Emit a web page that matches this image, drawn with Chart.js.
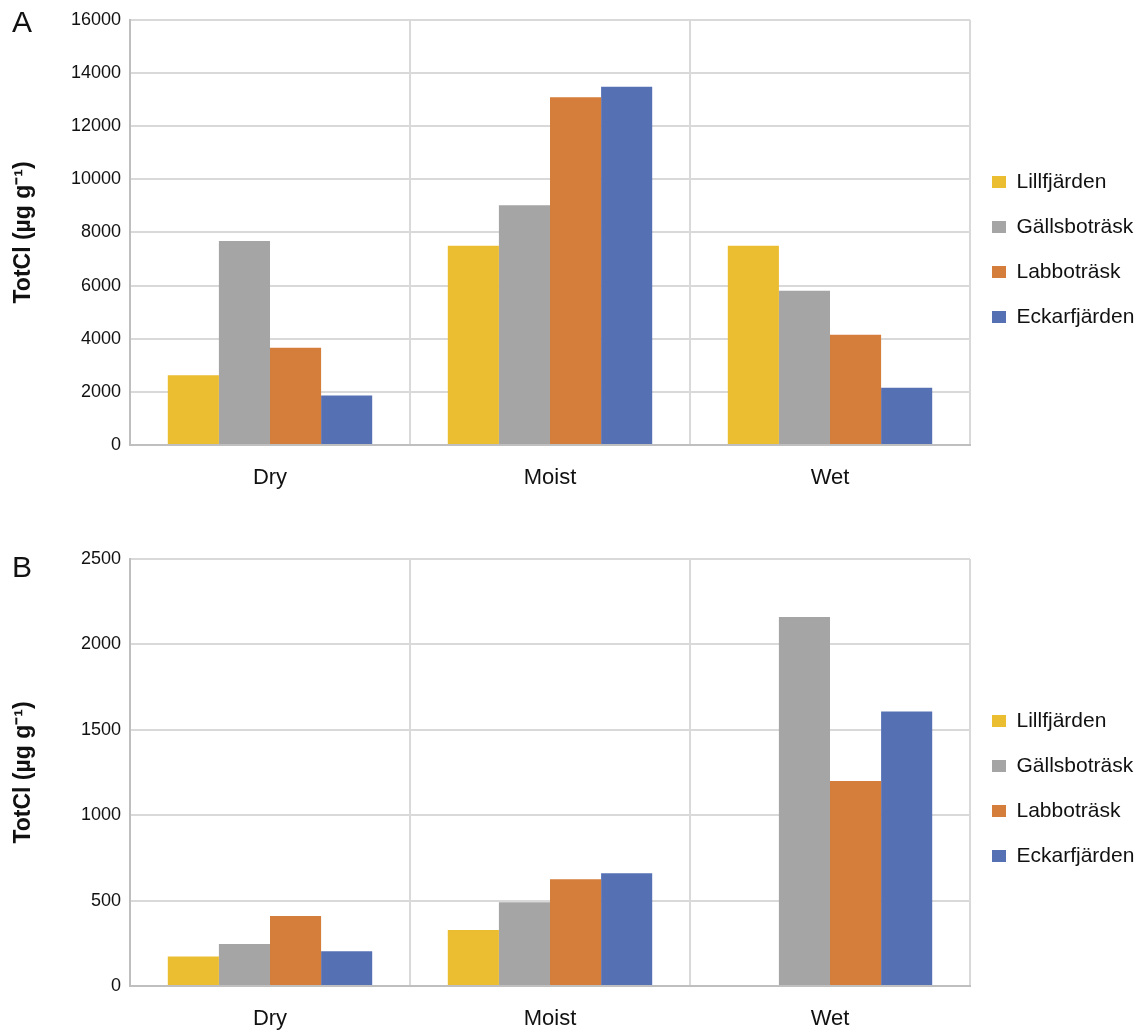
<!DOCTYPE html>
<html>
<head>
<meta charset="utf-8">
<title>TotCl by moisture class</title>
<script src="https://cdn.jsdelivr.net/npm/chart.js@4.4.1/dist/chart.umd.min.js"></script>
<style>
  html, body { margin: 0; padding: 0; background: #fff; }
  #wrap { position: relative; width: 1144px; height: 1030px; overflow: hidden; }
  .panel { position: absolute; left: 0; width: 1144px; height: 515px; }
  .tag { position: absolute; left: 12px; font: 30px 'Liberation Sans', Arial, sans-serif; line-height: 30px; color: #111; }
</style>
</head>
<body>
<div id="wrap">
  <div class="panel" style="top:0"><canvas id="chartA" width="1144" height="515"></canvas></div>
  <div class="panel" style="top:515px"><canvas id="chartB" width="1144" height="515"></canvas></div>
  <div class="tag" style="top:7px">A</div>
  <div class="tag" style="top:552px">B</div>
</div>
<script>
// Moisture classes on the x axis
const categories = ['Dry', 'Moist', 'Wet'];

// Lakes (one series each)
const lakes = ['Lillfjärden', 'Gällsboträsk', 'Labboträsk', 'Eckarfjärden'];
const lakeColors = ['#EBBD30', '#A5A5A5', '#D57D3A', '#5670B4'];

// Panel A: TotCl (µg g⁻¹)
const lillfjardenA  = [2620, 7500, 7500];
const gallsbotraskA = [7680, 9020, 5800];
const labbotraskA   = [3660, 13090, 4150];
const eckarfjardenA = [1860, 13480, 2150];
const yTicksA = [0, 2000, 4000, 6000, 8000, 10000, 12000, 14000, 16000];

// Panel B: TotCl (µg g⁻¹)
const lillfjardenB  = [172, 328, 0];
const gallsbotraskB = [246, 490, 2160];
const labbotraskB   = [410, 625, 1200];
const eckarfjardenB = [203, 660, 1607];
const yTicksB = [0, 500, 1000, 1500, 2000, 2500];

const yTitle = 'TotCl (µg g⁻¹)';
const FONT = "'Liberation Sans', Arial, sans-serif";
const LEGEND_W = 174;

// fixed-width legend column on the right, vertically centred on its own band
function legendBox(legendBottom) {
  return {
    id: 'legendBox',
    beforeLayout(chart) {
      const lg = chart.legend;
      if (lg && !lg.__fixedWidth) {
        const fit = lg.fit;
        lg.fit = function () { fit.call(this); this.width = LEGEND_W; };
        lg.__fixedWidth = true;
      }
    },
    afterLayout(chart) {
      const lg = chart.legend;
      if (lg) {
        lg.left -= 2;
        lg.bottom = legendBottom;
        lg.height = lg.bottom - lg.top;
      }
    }
  };
}

function makeChart(id, series, ticks, layout) {
  const yMax = ticks[ticks.length - 1];
  const yStep = ticks[1] - ticks[0];
  return new Chart(document.getElementById(id), {
    type: 'bar',
    data: {
      labels: categories,
      datasets: series.map((values, i) => ({
        label: lakes[i],
        data: values,
        backgroundColor: lakeColors[i],
        borderWidth: 0,
        categoryPercentage: 0.73,
        barPercentage: 1.0
      }))
    },
    plugins: [legendBox(layout.legendBottom)],
    options: {
      responsive: false,
      animation: false,
      layout: { padding: { top: layout.top, bottom: 0, left: 0, right: 0 } },
      plugins: {
        tooltip: { enabled: false },
        legend: {
          position: 'right',
          align: 'center',
          labels: {
            font: { family: FONT, size: 21 },
            color: '#111',
            boxWidth: 14,
            boxHeight: 12,
            padding: 24
          }
        }
      },
      scales: {
        x: {
          grid: { color: '#d9d9d9', lineWidth: 2, offset: true, drawTicks: false },
          border: { color: '#bfbfbf', width: 2 },
          ticks: { font: { family: FONT, size: 22 }, color: '#111', padding: 20 },
          afterFit(scale) { scale.height = layout.xAxisH; }
        },
        y: {
          min: 0,
          max: yMax,
          grid: { color: '#d9d9d9', lineWidth: 2, drawTicks: false },
          border: { color: '#bfbfbf', width: 2 },
          ticks: {
            stepSize: yStep,
            font: { family: FONT, size: 18 },
            color: '#111',
            padding: 9,
            callback: (v) => String(v)
          },
          title: {
            display: true,
            text: yTitle,
            font: { family: FONT, size: 23, weight: 'bold' },
            color: '#111',
            padding: { top: 10, bottom: 0 }
          },
          afterFit(scale) { scale.width = 130; }
        }
      }
    }
  });
}

makeChart('chartA',
  [lillfjardenA, gallsbotraskA, labbotraskA, eckarfjardenA],
  yTicksA,
  { top: 18, xAxisH: 70, legendBottom: 481 });

makeChart('chartB',
  [lillfjardenB, gallsbotraskB, labbotraskB, eckarfjardenB],
  yTicksB,
  { top: 44, xAxisH: 44, legendBottom: 503 });
</script>
</body>
</html>
